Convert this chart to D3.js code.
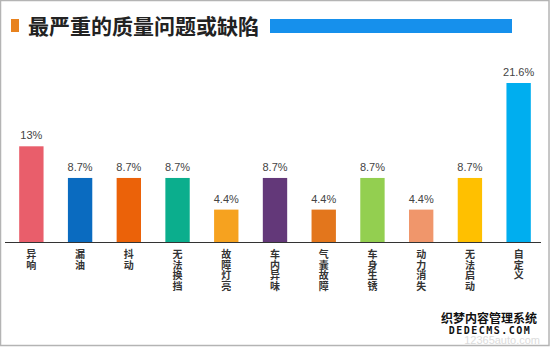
<!DOCTYPE html>
<html>
<head>
<meta charset="utf-8">
<script src="https://cdn.jsdelivr.net/npm/d3@7/dist/d3.min.js"></script>
<style>
  html, body { margin: 0; padding: 0; background: #fff; }
  svg { display: block; }
</style>
</head>
<body>
<svg id="chart" width="550" height="347"></svg>
<script>
// Survey: most serious quality problems or defects (share of responses, %)
const categories = ["异响", "漏油", "抖动", "无法换挡", "故障灯亮", "车内异味", "气囊故障", "车身生锈", "动力消失", "无法启动", "自定义"];
const values = [13, 8.7, 8.7, 8.7, 4.4, 8.7, 4.4, 8.7, 4.4, 8.7, 21.6];
const valueLabels = ["13%", "8.7%", "8.7%", "8.7%", "4.4%", "8.7%", "4.4%", "8.7%", "4.4%", "8.7%", "21.6%"];
const barColors = ["#E95E6B", "#0A6BC0", "#EB6209", "#0BAE8D", "#F6A21F", "#633879", "#E3761C", "#93CF50", "#F0966B", "#FFC000", "#00AEEF"];
const title = "最严重的质量问题或缺陷";

const W = 550, H = 347;
const svg = d3.select("#chart");

// frame
svg.append("rect").attr("x", 0.5).attr("y", 0.5).attr("width", W - 1.5).attr("height", H - 2)
  .attr("fill", "#fff").attr("stroke", "#b4b4b4").attr("stroke-width", 1.5);

// header
svg.append("rect").attr("x", 11).attr("y", 19).attr("width", 8).attr("height", 13).attr("fill", "#E8821E");
svg.append("text").attr("x", 28).attr("y", 34)
  .attr("font-family", "'Noto Sans CJK SC', sans-serif").attr("font-weight", "bold")
  .attr("font-size", 21).attr("fill", "#222")
  .text(title);
svg.append("rect").attr("x", 270).attr("y", 19).attr("width", 242).attr("height", 14).attr("fill", "#1690EC");

// scales
const baseY = 242, topY = 83;
const x = d3.scaleBand().domain(categories).range([7, 543]).paddingInner(0.5).paddingOuter(0.25);
const y = d3.scaleLinear().domain([0, d3.max(values)]).range([baseY, topY]);

const g = svg.append("g");

g.selectAll("rect.bar").data(values).join("rect")
  .attr("class", "bar")
  .attr("x", (d, i) => x(categories[i]))
  .attr("width", x.bandwidth())
  .attr("y", d => y(d))
  .attr("height", d => baseY - y(d))
  .attr("fill", (d, i) => barColors[i]);

g.selectAll("text.val").data(values).join("text")
  .attr("class", "val")
  .attr("x", (d, i) => x(categories[i]) + x.bandwidth() / 2)
  .attr("y", d => y(d) - 7)
  .attr("text-anchor", "middle")
  .attr("font-family", "'Liberation Sans', Arial, sans-serif")
  .attr("font-size", 11).attr("fill", "#444")
  .text((d, i) => valueLabels[i]);

// category axis
const xAxis = d3.axisBottom(x).tickSize(0).tickFormat("");
const axisG = svg.append("g").attr("transform", `translate(0,${baseY})`).call(xAxis);
axisG.select(".domain").attr("stroke", "#333").attr("stroke-width", 1.2).attr("d", "M5,0.5H541");

// vertical category labels, one character per line
const catG = svg.append("g");
categories.forEach(c => {
  const cx = x(c) + x.bandwidth() / 2;
  Array.from(c).forEach((ch, k) => {
    catG.append("text")
      .attr("x", cx)
      .attr("y", 258 + k * 10.5)
      .attr("text-anchor", "middle")
      .attr("font-family", "'Noto Sans CJK SC', sans-serif")
      .attr("font-weight", "bold")
      .attr("font-size", 10).attr("fill", "#333")
      .text(ch);
  });
});

// site marks, bottom right
svg.append("text").attr("x", 540).attr("y", 344).attr("text-anchor", "end")
  .attr("font-family", "'Liberation Sans', Arial, sans-serif").attr("font-size", 11)
  .attr("fill", "#dcdcdc").text("12365auto.com");
svg.append("text").attr("x", 489).attr("y", 323).attr("text-anchor", "middle")
  .attr("font-family", "'Noto Sans CJK SC', sans-serif").attr("font-weight", "bold")
  .attr("font-size", 12).attr("fill", "#111").attr("stroke", "#fff").attr("stroke-width", 2.5)
  .attr("paint-order", "stroke").text("织梦内容管理系统");
svg.append("text").attr("x", 490).attr("y", 334).attr("text-anchor", "middle")
  .attr("font-family", "'DejaVu Sans Mono', monospace").attr("font-weight", "bold")
  .attr("font-size", 10).attr("fill", "#111").attr("stroke", "#fff").attr("stroke-width", 2.5)
  .attr("paint-order", "stroke").attr("letter-spacing", 1.5).text("DEDECMS.COM");
</script>
</body>
</html>
